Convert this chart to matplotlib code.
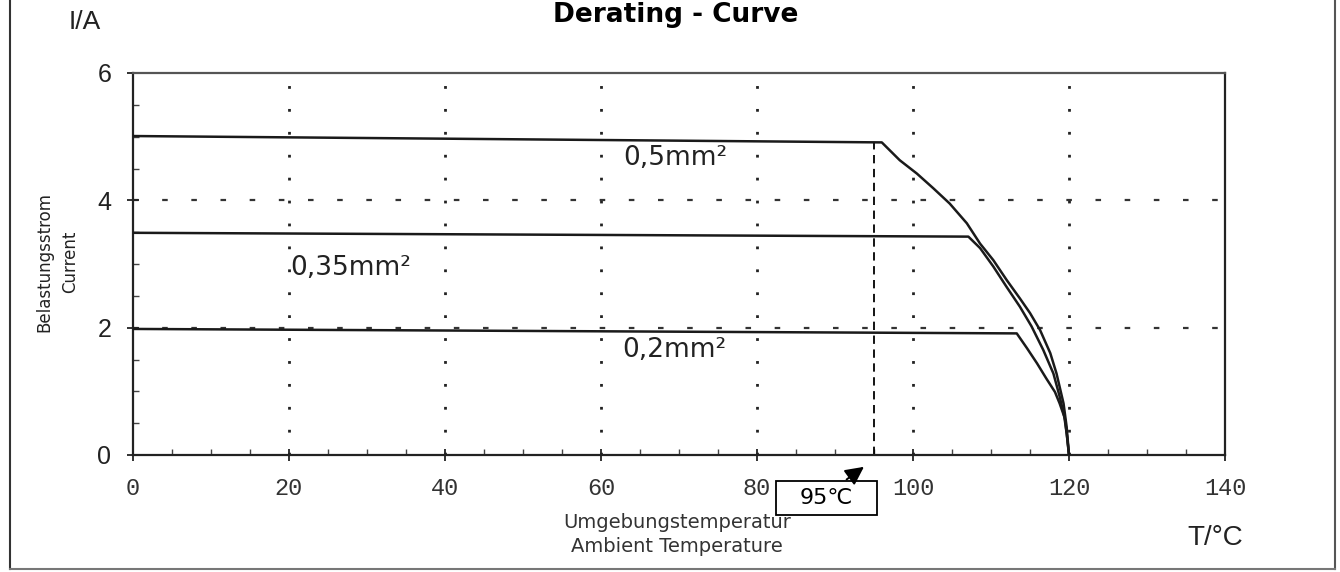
import matplotlib
matplotlib.use("Agg")
import matplotlib.pyplot as plt
from matplotlib.patches import Rectangle
from matplotlib.ticker import MultipleLocator

plt.rcParams['lines.scale_dashes'] = False

# ---- data ----
x_05 = [0, 96.0, 98.3, 100.5, 102.6, 104.7, 106.9, 108.6, 110.3, 112.0, 113.7,
        115.0, 116.3, 117.6, 118.4, 119.3, 119.7, 120.0]
y_05 = [5.01, 4.91, 4.63, 4.42, 4.19, 3.95, 3.64, 3.32, 3.06, 2.75, 2.46,
        2.23, 1.96, 1.60, 1.28, 0.81, 0.44, 0.0]

x_035 = [0, 107.1, 108.6, 110.3, 112.0, 113.7, 115.2, 116.7, 118.0, 118.8,
         119.5, 119.8, 120.0]
y_035 = [3.49, 3.43, 3.25, 2.96, 2.64, 2.33, 2.02, 1.65, 1.28, 0.92,
         0.55, 0.24, 0.0]

x_02 = [0, 113.3, 114.6, 115.9, 117.1, 118.2, 118.8, 119.4, 119.7, 120.0]
y_02 = [1.98, 1.91, 1.68, 1.44, 1.20, 0.99, 0.81, 0.60, 0.34, 0.0]

series_labels = ["0,5mm²", "0,35mm²", "0,2mm²"]
x_ticks = [0, 20, 40, 60, 80, 100, 120, 140]
y_ticks = [0, 2, 4, 6]
marker_temp = 95
marker_label = "95℃"

W, H = 1340, 572
fig = plt.figure(figsize=(W / 100, H / 100), dpi=100)
ax = fig.add_axes([133 / W, (H - 455) / H, (1225 - 133) / W, (455 - 73) / H])
ax.set_xlim(0, 140)
ax.set_ylim(0, 6)

ink = "#1a1a1a"
# grid
for xv in x_ticks[1:-1]:
    ax.plot([xv, xv], [0, 6], color="#222222", lw=2.0, linestyle=(0, (2.0, 14.5)), zorder=1)
for yv in [2, 4]:
    ax.plot([0, 140], [yv, yv], color="#333333", lw=1.6, linestyle=(0, (4, 17)), zorder=1)

# curves
ax.plot(x_05, y_05, color=ink, lw=1.8, zorder=3, solid_joinstyle="round")
ax.plot(x_035, y_035, color=ink, lw=1.8, zorder=3, solid_joinstyle="round")
ax.plot(x_02, y_02, color=ink, lw=1.8, zorder=3, solid_joinstyle="round")

# labels on curves
lab_font = dict(family="DejaVu Sans", fontsize=19, color="#222222")
ax.text(62.8, 4.66, series_labels[0], ha="left", va="center", **lab_font)
ax.text(20.1, 2.94, series_labels[1], ha="left", va="center", **lab_font)
ax.text(62.7, 1.65, series_labels[2], ha="left", va="center", **lab_font)

# 95 degree marker
ax.plot([marker_temp, marker_temp], [0, y_05[1]], color="black", lw=1.3,
        linestyle=(0, (6, 4)), zorder=2)
ax.add_patch(Rectangle((82.4, -0.94), 13.0, 0.53, transform=ax.transData,
                       facecolor="white", edgecolor="black", lw=1.3, clip_on=False, zorder=5))
ax.text(88.9, -0.675, marker_label, ha="center", va="center", fontsize=16,
        family="DejaVu Sans", color="black", clip_on=False, zorder=6)
ax.annotate("", xy=(94.0, -0.16), xytext=(91.2, -0.41),
            arrowprops=dict(arrowstyle="-|>", color="black", lw=1.4, mutation_scale=28),
            annotation_clip=False, zorder=6)

# axes styling
for s in ax.spines.values():
    s.set_color("#222222")
    s.set_linewidth(1.6)
ax.spines["top"].set_color("#555555")
ax.set_xticks(x_ticks)
ax.set_yticks(y_ticks)
ax.xaxis.set_minor_locator(MultipleLocator(5))
ax.yaxis.set_minor_locator(MultipleLocator(0.5))
ax.tick_params(axis="both", which="major", direction="inout", length=9, width=1.3, color="#222222")
ax.tick_params(axis="both", which="minor", direction="in", length=4, width=1.0, color="#444444")
ax.tick_params(axis="x", which="both", top=False)
ax.tick_params(axis="y", which="both", right=False)
ax.set_xticklabels([str(v) for v in x_ticks], family="Liberation Mono", fontsize=17, color="#333333")
ax.set_yticklabels([str(v) for v in y_ticks], family="Liberation Sans", fontsize=18, color="#222222")
ax.tick_params(axis="x", which="major", pad=11)
ax.tick_params(axis="y", which="major", pad=11)

# figure texts
fig.text(676 / W, 1 - 22 / H, "Derating - Curve", ha="center", va="baseline",
         fontsize=19, fontweight="bold", family="DejaVu Sans", color="black")
fig.text(85 / W, 1 - 22 / H, "I/A", ha="center", va="center", fontsize=19,
         family="Liberation Sans", color="#222222")
fig.text(1215 / W, 1 - 538 / H, "T/°C", ha="center", va="center", fontsize=20,
         family="Liberation Sans", color="#222222")
fig.text(44 / W, 1 - 262 / H, "Belastungsstrom", ha="center", va="center", rotation=90,
         fontsize=12, family="DejaVu Sans", color="#222222")
fig.text(70 / W, 1 - 262 / H, "Current", ha="center", va="center", rotation=90,
         fontsize=12, family="DejaVu Sans", color="#222222")
fig.text(677 / W, 1 - 522 / H, "Umgebungstemperatur", ha="center", va="center",
         fontsize=14, family="DejaVu Sans", color="#333333")
fig.text(677 / W, 1 - 547 / H, "Ambient Temperature", ha="center", va="center",
         fontsize=14, family="DejaVu Sans", color="#333333")

# outer frame of the scanned sheet
fig.add_artist(plt.Line2D([10 / W, 10 / W], [1 - 569 / H, 1.0], color="#333333", lw=1.5))
fig.add_artist(plt.Line2D([1335 / W, 1335 / W], [1 - 569 / H, 1.0], color="#555555", lw=1.5))
fig.add_artist(plt.Line2D([10 / W, 1335 / W], [1 - 569 / H, 1 - 569 / H], color="#777777", lw=1.5))

fig.savefig("out.png", dpi=100)
